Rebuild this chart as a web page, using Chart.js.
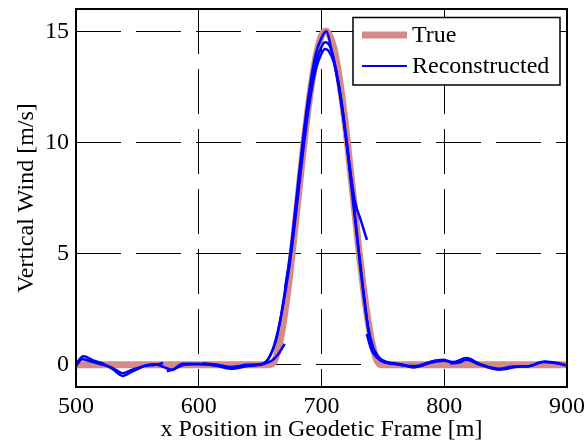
<!DOCTYPE html>
<html>
<head>
<meta charset="utf-8">
<script src="https://cdn.jsdelivr.net/npm/chart.js@4/dist/chart.umd.min.js"></script>
<style>
  body { margin: 0; background: #fff; }
</style>
</head>
<body>
<canvas id="windChart" width="586" height="444"></canvas>
<script>
// tick labels
const xTicks = [500, 600, 700, 800, 900];
const yTicks = [0, 5, 10, 15];
const seriesNames = ["True", "Reconstructed"];

// true gust profile
const truePts = [[500, 0], [655, 0], [660, 0.04], [665, 0.76], [670, 2.3], [675, 4.45], [680, 7.0],
    [685, 9.6], [690, 11.9], [695, 13.7], [700, 14.8], [703.5, 15.0], [705, 14.96], [710, 14.25],
    [715, 12.7], [720, 10.55], [725, 8.0], [730, 5.4], [735, 3.1], [740, 1.3], [745, 0.22],
    [749, 0], [900, 0]];

// reconstructed pieces (several overlapping windows)
const recA = [[500, 0.05], [506, 0.38], [514, 0.2], [522, 0.05], [530, -0.2], [538, -0.5], [546, -0.3],
    [557, -0.03], [565, 0.02], [572, -0.12], [578, -0.22], [587, 0.05], [600, 0.05], [610, 0.0],
    [618, -0.05], [626, -0.13], [634, -0.08], [641, -0.03], [648, 0.0], [653, 0.05], [658, 0.4],
    [663, 1.1], [667, 2.2], [671, 3.6], [675, 5.0], [680, 7.4], [685, 9.9], [690, 12.0], [695, 13.5],
    [700, 14.3], [703, 14.5], [707, 14.3], [711, 13.5], [716, 11.9], [721, 9.7], [726, 7.2], [731, 4.7],
    [735, 2.8], [739, 1.3], [743, 0.55], [747, 0.25], [752, 0.1], [758, 0.05], [764, 0.0], [775, -0.08],
    [788, 0.12], [799, 0.22], [807, 0.12], [818, 0.3], [829, 0.04], [845, -0.18], [856, -0.08],
    [867, -0.08], [881, 0.12], [894, 0.04], [900, -0.05]];
const recB = [[500, -0.05], [505, 0.25], [512, 0.15], [522, 0.0], [530, -0.15], [538, -0.38], [546, -0.22],
    [556, -0.05], [565, 0.0], [571, 0.08]];
const recC = [[574, -0.29], [580, -0.2], [588, 0.0], [600, 0.02], [612, -0.02], [626, -0.18], [640, -0.06],
    [652, 0.02], [660, 0.2], [665, 0.5], [670, 0.94]];
const recD = [[670.3, 3.42], [675, 5.2], [680, 7.7], [685, 10.2], [690, 12.3], [695, 13.9], [700, 14.7],
    [704, 15.0], [708, 14.2], [713, 12.8], [718, 11.0], [723, 8.9], [727, 7.4], [732, 6.5], [737, 5.62]];
const recE = [[736.9, 1.39], [739, 0.95], [741, 0.64], [744, 0.4], [748, 0.2], [755, 0.08], [765, 0.02],
    [775, -0.12], [788, 0.08], [800, 0.18], [806, 0.1]];
const recF = [[805, 0.06], [812, 0.1], [818, 0.22], [829, 0.0], [845, -0.22], [858, -0.1], [870, -0.05],
    [882, 0.15], [894, 0.06], [900, -0.02]];
const recG = [[603, 0.07], [615, 0.0], [626, -0.1], [640, 0.0], [650, 0.02], [656, 0.2], [661, 0.8],
    [666, 1.9], [670, 3.1], [675, 4.9], [680, 7.2], [685, 9.6], [690, 11.7], [695, 13.2], [700, 14.0],
    [703, 14.2], [706, 14.1], [710, 13.6], [715, 12.3], [720, 10.3], [725, 7.9], [730, 5.3], [734, 3.4],
    [738, 1.7], [742, 0.8], [746, 0.4], [750, 0.2], [760, 0.05], [770, -0.05], [780, -0.05], [790, 0.15],
    [800, 0.2]];

const pink = "rgb(213, 138, 134)";
const blue = "#0000ff";
const serif = "'Liberation Serif', 'Times New Roman', serif";
const fontSize = 24;

Chart.defaults.font.family = serif;
Chart.defaults.color = "#000";

function toXY(pts) {
    return pts.map((p) => ({ x: p[0], y: p[1] }));
}

const recPieces = [recA, recB, recC, recD, recE, recF, recG];

const datasets = recPieces.map((pts, i) => ({
    label: i === 0 ? seriesNames[1] : "",
    data: toXY(pts),
    borderColor: blue,
    borderWidth: 2.5,
    order: 0,
}));
datasets.push({
    label: seriesNames[0],
    data: toXY(truePts),
    borderColor: pink,
    borderWidth: 7,
    order: 1,
});

// box round the plot area plus the legend inside it
const boxAndLegend = {
    id: "boxAndLegend",
    afterDraw(chart) {
        const ctx = chart.ctx;
        const a = chart.chartArea;
        ctx.save();
        ctx.strokeStyle = "#000";
        ctx.lineWidth = 2;
        ctx.strokeRect(a.left, a.top, a.right - a.left, a.bottom - a.top);

        // legend
        ctx.fillStyle = "#fff";
        ctx.fillRect(353, 17.5, 207, 67.5);
        ctx.lineWidth = 1.5;
        ctx.strokeRect(353, 17.5, 207, 67.5);

        ctx.lineCap = "butt";
        ctx.strokeStyle = pink;
        ctx.lineWidth = 7;
        ctx.beginPath();
        ctx.moveTo(362, 35);
        ctx.lineTo(407, 35);
        ctx.stroke();

        ctx.strokeStyle = blue;
        ctx.lineWidth = 2;
        ctx.beginPath();
        ctx.moveTo(362, 66);
        ctx.lineTo(407, 66);
        ctx.stroke();

        ctx.fillStyle = "#000";
        ctx.font = fontSize + "px " + serif;
        ctx.textBaseline = "middle";
        ctx.fillText(seriesNames[0], 412, 36);
        ctx.fillText(seriesNames[1], 412, 67);
        ctx.restore();
    },
};

const windChart = new Chart(document.getElementById("windChart"), {
    type: "scatter",
    data: { datasets: datasets },
    options: {
        responsive: false,
        animation: false,
        showLine: true,
        layout: { padding: { top: 9, right: 19, left: 0, bottom: 0 } },
        elements: {
            point: { radius: 0 },
            line: { cubicInterpolationMode: "monotone", fill: false },
        },
        plugins: { legend: { display: false }, tooltip: { enabled: false } },
        scales: {
            x: {
                min: 500,
                max: 900,
                afterBuildTicks: (s) => { s.ticks = xTicks.map((v) => ({ value: v })); },
                afterFit: (s) => { s.height = 57; s.paddingLeft = 0; s.paddingRight = 0; },
                ticks: { font: { size: fontSize }, padding: 5, maxRotation: 0 },
                grid: { color: "#000", lineWidth: 1, drawTicks: false },
                border: { display: false, dash: [45, 15] },
                title: {
                    display: true,
                    text: "x Position in Geodetic Frame [m]",
                    font: { size: fontSize },
                    padding: { top: 0, bottom: 0 },
                },
            },
            y: {
                min: -1,
                max: 16,
                afterBuildTicks: (s) => { s.ticks = yTicks.map((v) => ({ value: v })); },
                afterFit: (s) => { s.width = 76; s.paddingTop = 0; s.paddingBottom = 0; },
                ticks: { font: { size: fontSize }, padding: 7 },
                grid: { color: "#000", lineWidth: 1, drawTicks: false },
                border: { display: false, dash: [45, 15] },
                title: {
                    display: true,
                    text: "Vertical Wind [m/s]",
                    font: { size: fontSize },
                    padding: { top: 12, bottom: 0 },
                },
            },
        },
    },
    plugins: [boxAndLegend],
});
</script>
</body>
</html>
